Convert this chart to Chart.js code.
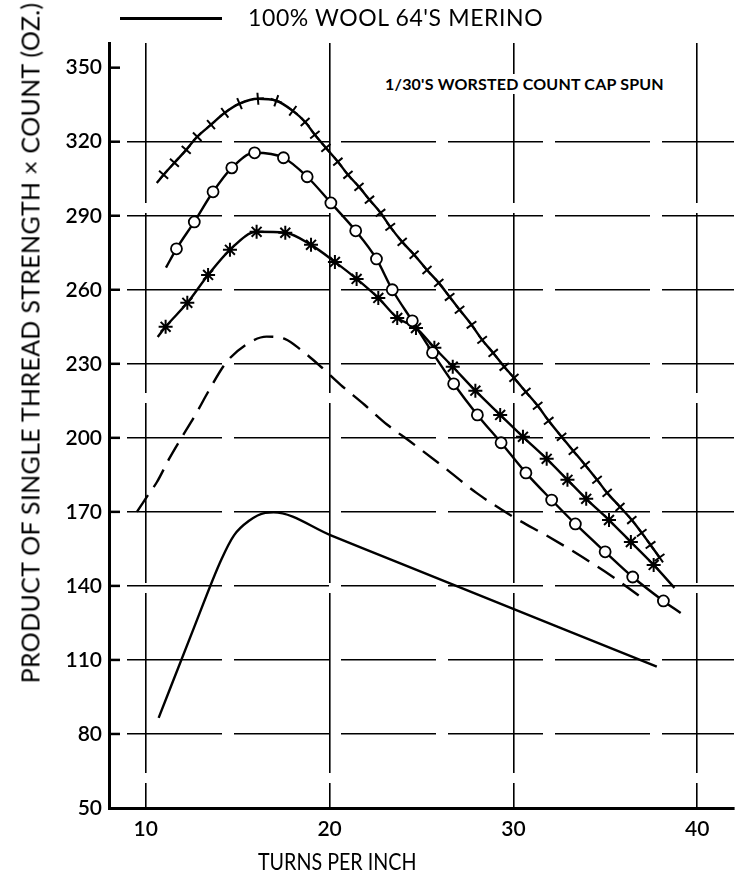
<!DOCTYPE html>
<html>
<head>
<meta charset="utf-8">
<script src="https://cdn.jsdelivr.net/npm/chart.js@4.4.1/dist/chart.umd.min.js"></script>
<style>
  html, body { margin: 0; padding: 0; background: #fff; }
  #wrap { position: relative; width: 742px; height: 878px; overflow: hidden; font-family: Lato, "Open Sans", sans-serif; color: #000; }
  #chart { position: absolute; left: 0; top: 0; }
  .lbl { position: absolute; white-space: nowrap; line-height: 1; }
  #hdrLine { position: absolute; left: 120px; top: 17px; width: 102px; height: 3px; background: #000; }
  #hdrText { left: 248px; top: 6px; font-size: 23px; letter-spacing: 0.6px; }
  #note { left: 385px; top: 74px; font-size: 16px; font-weight: bold; background: #fff; padding: 2px 0; letter-spacing: 0.2px; }
  #xTitle { left: 258px; top: 849px; font-size: 24px; transform: scaleX(0.82); transform-origin: 0 0; }
  #yTitle { left: 30px; top: 343px; font-size: 25px; letter-spacing: 0.3px; transform: translate(-50%, -50%) rotate(-90deg); }
</style>
</head>
<body>
<div id="wrap">
  <canvas id="chart" width="742" height="878"></canvas>
  <div id="hdrLine"></div>
  <div class="lbl" id="hdrText">100% WOOL 64'S MERINO</div>
  <div class="lbl" id="note">1/30'S WORSTED COUNT CAP SPUN</div>
  <div class="lbl" id="xTitle">TURNS PER INCH</div>
  <div class="lbl" id="yTitle">PRODUCT OF SINGLE THREAD STRENGTH × COUNT (OZ.)</div>
</div>
<script>
// Valores
const xTicks = [10, 20, 30, 40];
const yTicks = [50, 80, 110, 140, 170, 200, 230, 260, 290, 320, 350];

// Curva superior (marcas +)
const plusX = [10.6, 10.97, 11.56, 12.2, 12.8, 13.55, 14.3, 15.1, 16.1, 17.1, 18.0, 18.67, 19.2, 19.8, 20.45, 21.0, 21.6, 22.17, 22.77, 23.3, 23.95, 24.6, 25.3, 25.94, 26.53, 27.07, 27.72, 28.3, 28.9, 29.5, 30.03, 30.68, 31.32, 31.92, 32.62, 33.26, 33.9, 34.55, 35.1, 35.8, 36.44, 36.98, 37.46, 37.95];
const plusY = [303.3, 306.6, 311.5, 316.7, 322.0, 326.9, 331.7, 335.4, 337.4, 336.6, 332.5, 328.0, 322.8, 317.5, 311.9, 306.6, 301.7, 296.5, 291.2, 285.5, 279.4, 274.2, 268.0, 262.8, 257.1, 251.9, 245.8, 239.7, 234.4, 228.8, 224.3, 218.6, 213.0, 206.9, 200.4, 194.7, 189.0, 183.0, 177.7, 172.0, 166.7, 161.5, 156.6, 151.5];

// Curva com círculos
const circleX = [11.1, 11.67, 12.64, 13.66, 14.68, 15.92, 17.49, 18.78, 20.07, 21.42, 22.55, 23.41, 24.5, 25.6, 26.75, 28.04, 29.33, 30.68, 32.08, 33.37, 34.99, 36.49, 38.16, 39.1];
const circleY = [269.0, 276.6, 287.5, 299.7, 309.4, 315.5, 313.5, 305.8, 295.2, 283.9, 272.5, 260.0, 247.4, 234.5, 221.9, 209.3, 198.0, 185.8, 174.8, 165.1, 153.8, 143.6, 133.9, 129.0];

// Curva com asteriscos
const starX = [10.65, 11.08, 12.26, 13.39, 14.58, 16.03, 17.59, 18.99, 20.29, 21.47, 22.65, 23.68, 24.7, 25.7, 26.7, 27.93, 29.28, 30.52, 31.81, 32.94, 33.96, 35.2, 36.39, 37.63, 38.76];
const starY = [240.9, 245.0, 254.7, 266.0, 276.2, 283.5, 283.1, 278.2, 271.3, 264.4, 256.7, 248.6, 244.5, 236.5, 228.8, 219.1, 209.3, 200.4, 191.5, 183.0, 175.3, 166.7, 157.8, 148.5, 139.2];

// Curva tracejada
const dashX = [9.52, 10.05, 10.6, 11.3, 11.94, 12.75, 13.45, 14.36, 15.44, 16.57, 17.59, 18.45, 19.53, 20.6, 21.9, 23.14, 24.4, 26.2, 27.99, 29.98, 31.92, 33.75, 35.5, 37.0];
const dashY = [170.0, 176.0, 182.0, 191.9, 200.0, 210.0, 219.4, 230.4, 237.7, 241.0, 240.0, 235.6, 228.8, 221.5, 213.4, 205.3, 198.4, 188.2, 177.7, 168.0, 159.9, 151.7, 143.2, 135.1];

// 100% lã 64's merino (linha cheia)
const woolX = [10.7, 12.64, 14.1, 14.8, 15.6, 16.5, 16.95, 20.07, 23.68, 37.8];
const woolY = [86.5, 123.4, 150.5, 160.5, 166.3, 169.6, 169.8, 160.5, 149.6, 107.3];

const pts = (xs, ys) => xs.map((x, i) => ({ x: x, y: ys[i] }));

// Gira a marca "+" para acompanhar a direção da curva
function alongCurve(ctx) {
    const chart = ctx.chart;
    const sx = chart.scales.x, sy = chart.scales.y;
    const d = ctx.dataset.data, i = ctx.dataIndex;
    if (!sx || !sy || !d || i === undefined) return 0;
    const a = d[Math.max(0, i - 1)], b = d[Math.min(d.length - 1, i + 1)];
    const dx = sx.getPixelForValue(b.x) - sx.getPixelForValue(a.x);
    const dy = sy.getPixelForValue(b.y) - sy.getPixelForValue(a.y);
    return Math.atan2(dy, dx) * 180 / Math.PI;
}

// Pequenas marcas no eixo Y, para dentro
const axisTicks = {
    id: 'axisTicks',
    afterDraw(chart) {
        const c = chart.ctx, y = chart.scales.y, left = chart.chartArea.left;
        c.save();
        c.strokeStyle = '#000';
        c.lineWidth = 2.5;
        yTicks.forEach(v => {
            if (v === 50) return;
            const py = y.getPixelForValue(v);
            c.beginPath();
            c.moveTo(left, py);
            c.lineTo(left + 11, py);
            c.stroke();
        });
        c.restore();
    }
};

const lineBase = {
    borderColor: '#000',
    borderWidth: 2.4,
    cubicInterpolationMode: 'monotone',
    fill: false
};

new Chart(document.getElementById('chart').getContext('2d'), {
    type: 'line',
    data: {
        datasets: [
            Object.assign({}, lineBase, {
                label: 'plus', data: pts(plusX, plusY),
                pointStyle: 'cross', pointRadius: (ctx) => ctx.dataIndex === 0 ? 0 : 6,
                pointBorderWidth: 2, pointBorderColor: '#000', pointRotation: alongCurve
            }),
            Object.assign({}, lineBase, {
                label: 'circle', data: pts(circleX, circleY),
                pointStyle: 'circle',
                pointRadius: (ctx) => (ctx.dataIndex === 0 || ctx.dataIndex === circleX.length - 1) ? 0 : 5.5,
                pointBorderWidth: 1.8, pointBorderColor: '#000', pointBackgroundColor: '#fff'
            }),
            Object.assign({}, lineBase, {
                label: 'star', data: pts(starX, starY),
                pointStyle: 'star',
                pointRadius: (ctx) => (ctx.dataIndex === 0 || ctx.dataIndex === starX.length - 1) ? 0 : 7,
                pointBorderWidth: 2, pointBorderColor: '#000'
            }),
            Object.assign({}, lineBase, {
                label: 'dashed', data: pts(dashX, dashY),
                borderDash: [20, 10], pointRadius: 0
            }),
            Object.assign({}, lineBase, {
                label: '100% WOOL 64\'S MERINO', data: pts(woolX, woolY),
                pointRadius: 0
            })
        ]
    },
    options: {
        responsive: false,
        animation: false,
        layout: { padding: { top: 43, right: 2, left: 0, bottom: 0 } },
        plugins: {
            legend: { display: false },
            tooltip: { enabled: false }
        },
        scales: {
            x: {
                type: 'linear', min: 8, max: 42,
                afterBuildTicks: (s) => { s.ticks = xTicks.map(v => ({ value: v })); },
                afterFit: (s) => { s.height = 70; },
                grid: { color: '#000', lineWidth: 1.6, drawTicks: false },
                border: { display: true, color: '#000', width: 3, dash: [180, 10], dashOffset: 20 },
                ticks: { color: '#000', padding: 9, font: { family: 'Lato', size: 21, weight: '600' } }
            },
            y: {
                type: 'linear', min: 50, max: 360,
                afterBuildTicks: (s) => { s.ticks = yTicks.map(v => ({ value: v })); },
                afterFit: (s) => { s.width = 109; },
                grid: {
                    color: (ctx) => (ctx.tick && (ctx.tick.value === 50 || ctx.tick.value === 350)) ? 'rgba(0,0,0,0)' : '#000',
                    lineWidth: 1.6, drawTicks: false
                },
                border: { display: true, color: '#000', width: 3, dash: [95, 12], dashOffset: -16 },
                ticks: { color: '#000', padding: 7, font: { family: 'Lato', size: 21, weight: '600' } }
            }
        }
    },
    plugins: [axisTicks]
});
</script>
</body>
</html>
